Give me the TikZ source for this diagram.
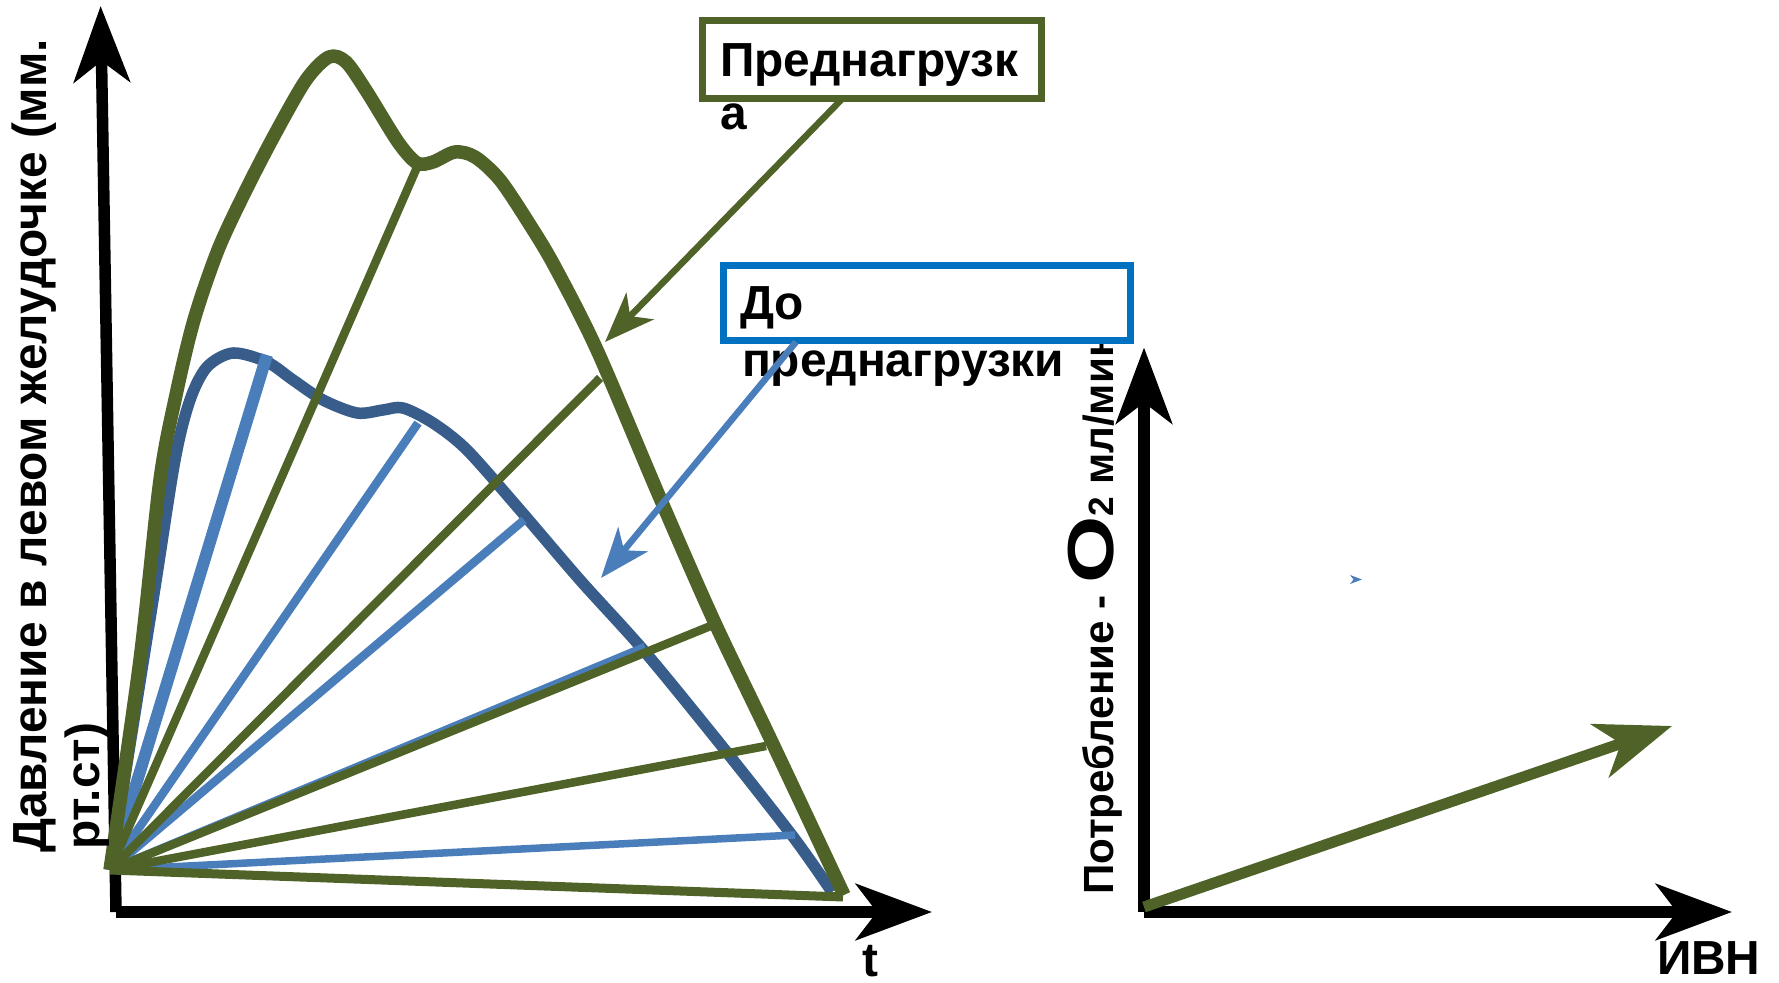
\documentclass[tikz,border=0pt]{standalone}
\usepackage{fontspec}
\usepackage{graphicx}
\setmainfont{Liberation Sans}
\usetikzlibrary{arrows.meta}
\definecolor{oliveG}{HTML}{4F6228}
\definecolor{curveB}{HTML}{385D8A}
\definecolor{fanB}{HTML}{4A7EBB}
\definecolor{boxB}{HTML}{0070C0}
\begin{document}
\begin{tikzpicture}[x=0.01cm,y=-0.01cm,
  lbl/.style={font=\bfseries\fontsize{13.6pt}{15.5pt}\selectfont, inner sep=0pt, outer sep=0pt},
  rlbl/.style={font=\bfseries\fontsize{12pt}{14pt}\selectfont, inner sep=0pt, outer sep=0pt},
  axisline/.style={black, line width=0.115cm, -{Stealth[length=0.76cm,width=0.56cm,inset=0.21cm]}},
  ptr/.style={line width=0.065cm, -{Stealth[length=0.5cm,width=0.38cm,inset=0.14cm]}},
  fanG/.style={oliveG, line width=0.085cm},
  fanBl/.style={fanB, line width=0.085cm},
  curveline/.style={line width=#1, line join=round},
]
\useasboundingbox (0,0) rectangle (1779,983);

% ---------- left graph axes ----------
\coordinate (LO) at (116,912);
\coordinate (LYtip) at (100.6,6);
\coordinate (LXtip) at (932,912);
\draw[axisline] (LO) -- (LYtip);
\draw[axisline] (LO) -- (LXtip);

% fan origin and end points
\coordinate (O) at (110,870);
\coordinate (b1) at (267,355);
\coordinate (b2) at (418,423);
\coordinate (b3) at (524,520);
\coordinate (b4) at (645,647);
\coordinate (b5) at (795,835);
\coordinate (g1) at (418,165);
\coordinate (g2) at (600,378);
\coordinate (g3) at (713,625);
\coordinate (g4) at (766,746);
\coordinate (g5) at (843,897);

% blue pressure curve
\draw[curveB, curveline=0.115cm] plot[smooth, tension=0.5] coordinates {
 (110,870) (153,600) (175,460) (190,400) (207,367) (233,353) (267,362)
 (293,380) (323,400) (357,413) (383,410) (403,408) (433,423) (467,450)
 (520,510) (580,580) (645,652) (725,750) (794,838) (832,892)};

% blue fan lines
\draw[fanBl, line width=0.12cm] (O) -- (b1);
\draw[fanBl] (O) -- (b2);
\draw[fanBl] (O) -- (b3);
\draw[fanBl] (O) -- (b4);
\draw[fanBl, line width=0.075cm] (O) -- (b5);

% green fan lines
\draw[fanG] (O) -- (g1);
\draw[fanG] (O) -- (g2);
\draw[fanG] (O) -- (g3);
\draw[fanG] (O) -- (g4);
\draw[fanG, line width=0.09cm] (O) -- (g5);

% green pressure curve
\draw[oliveG, curveline=0.135cm] plot[smooth, tension=0.5] coordinates {
 (110,870) (140,660) (160,480) (176,395) (194,320) (218,250) (245,192)
 (275,134) (306,80) (329,57) (346,62) (367,92) (398,142) (417,163)
 (433,162) (455,152) (475,157) (500,180) (530,225) (555,267) (597,350)
 (660,498) (714,621) (771,740) (844,895)};

% left axis label
\node[lbl, rotate=90, anchor=base west] (ylab1) at (47,853) {Давление в левом желудочке (мм.};
\node[lbl, rotate=90, anchor=base west] (ylab2) at (99,850) {рт.ст)};
\node[lbl, anchor=base] (tlab) at (870,976) {t};

% ---------- right graph ----------
\coordinate (RO) at (1144,912);
\coordinate (RYtip) at (1144,347.5);
\coordinate (RXtip) at (1732,912);
\draw[axisline] (RO) -- (RYtip);
\draw[axisline] (RO) -- (RXtip);
\coordinate (RA0) at (1144,907);
\coordinate (RA1) at (1672,726);
\draw[oliveG, line width=0.11cm, -{Stealth[length=0.76cm,width=0.56cm,inset=0.22cm]}] (RA0) -- (RA1);
\fill[fanB] (1362,579.5) -- (1350,575) -- (1353.5,579.5) -- (1350,584) -- cycle;

\node[rlbl, rotate=90, anchor=base west] (rlab) at (1113,895)
  {Потребление - \scalebox{1.33}[1]{\fontsize{18.5pt}{19pt}\selectfont O}{\fontsize{10pt}{12pt}\selectfont 2} мл/мин};
\node[lbl, anchor=base west] (ivn) at (1657,975) {ИВН};

% ---------- boxes ----------
\node[draw=oliveG, line width=0.075cm, fill=white, minimum width=3.385cm, minimum height=0.775cm, inner sep=0pt] (gbox) at (872,59.5) {};
\node[draw=boxB, line width=0.07cm, fill=white, minimum width=4.07cm, minimum height=0.75cm, inner sep=0pt] (bbox) at (927,303) {};

\node[lbl, anchor=base west] (gt1) at (720,77) {Преднагрузк};
\node[lbl, anchor=base west] (gt2) at (720,130) {а};
\node[lbl, anchor=base west] (bt1) at (740,320) {До};
\node[lbl, anchor=base west] (bt2) at (742,377) {преднагрузки};

% pointers from boxes
\coordinate (gp0) at (842,99);
\coordinate (gp1) at (605,342);
\coordinate (bp0) at (796,342);
\coordinate (bp1) at (601,578);
\draw[ptr, oliveG] (gp0) -- (gp1);
\draw[ptr, fanB] (bp0) -- (bp1);
\end{tikzpicture}
\end{document}
